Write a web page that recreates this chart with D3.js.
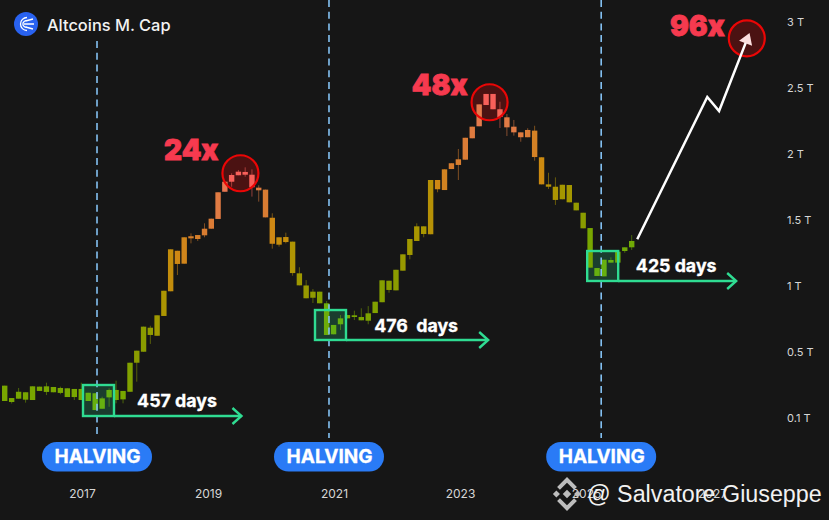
<!DOCTYPE html>
<html>
<head>
<meta charset="utf-8">
<script src="https://cdn.jsdelivr.net/npm/d3@7"></script>
<style>
html, body { margin: 0; padding: 0; background: #161616; }
svg { display: block; }
text { font-family: Inter, "Noto Sans", sans-serif; }
</style>
</head>
<body>
<div id="chart"></div>
<script>
// candle bodies and wicks, in trillions
var bodyTop = [.296,.221,.259,.256,.292,.29,.292,.288,.282,.28,.276,.276,.253,.25,.219,.27,.27,.264,.435,.51,.692,.684,.778,.964,1.278,1.267,1.369,1.377,1.386,1.434,1.51,1.71,1.79,1.841,1.866,1.864,1.843,1.745,1.73,1.517,1.369,1.371,1.336,1.096,1.004,.957,.957,.869,.705,.755,.78,.778,.765,.793,.881,1.043,1.04,1.123,1.24,1.356,1.452,1.452,1.803,1.803,1.884,1.93,1.96,2.123,2.207,2.376,2.455,2.455,2.339,2.278,2.207,2.164,2.182,2.177,1.975,1.77,1.752,1.767,1.765,1.631,1.555,1.439,1.136,1.199,1.197,1.26,1.293,1.341];
var bodyBottom = [.203,.197,.217,.211,.209,.264,.258,.256,.252,.227,.227,.209,.203,.148,.156,.225,.209,.213,.259,.435,.502,.629,.623,.773,.96,1.167,1.169,1.361,1.356,1.384,1.434,1.508,1.714,1.79,1.839,1.843,1.748,1.725,1.52,1.32,1.313,1.333,1.098,1.005,.907,.911,.869,.629,.634,.71,.755,.765,.74,.737,.795,.877,.97,.967,1.116,1.235,1.341,1.394,1.392,1.733,1.727,1.886,1.917,1.957,2.119,2.21,2.371,2.339,2.28,2.202,2.164,2.127,2.127,1.977,1.77,1.752,1.652,1.657,1.634,1.573,1.437,1.139,1.076,1.073,1.177,1.177,1.265,1.293];
var wickHigh = [.296,.221,.282,.256,.292,.29,.314,.288,.29,.28,.276,.314,.253,.25,.229,.28,.326,.264,.435,.51,.692,.699,.778,.964,1.278,1.267,1.369,1.399,1.386,1.475,1.51,1.71,1.79,1.854,1.879,1.899,1.884,1.763,1.73,1.551,1.369,1.404,1.336,1.142,1.045,.977,.957,.886,.705,.78,.78,.813,.831,.848,.881,1.043,1.04,1.123,1.24,1.356,1.475,1.452,1.803,1.803,1.884,1.93,2.038,2.123,2.207,2.376,2.455,2.455,2.396,2.303,2.258,2.164,2.195,2.214,1.975,1.858,1.823,1.767,1.765,1.631,1.555,1.439,1.136,1.199,1.217,1.26,1.293,1.386];
var wickLow = [.203,.188,.217,.193,.209,.264,.239,.256,.244,.227,.209,.209,.203,.148,.156,.168,.189,.189,.259,.32,.502,.561,.623,.773,.96,1.083,1.169,1.323,1.341,1.369,1.434,1.508,1.714,1.752,1.839,1.828,1.677,1.639,1.52,1.283,1.298,1.323,1.078,1.005,.907,.871,.869,.629,.634,.667,.755,.742,.74,.71,.795,.877,.949,.967,1.116,1.202,1.341,1.369,1.392,1.71,1.727,1.886,1.803,1.957,2.119,2.21,2.371,2.339,2.197,2.136,2.139,2.093,2.127,1.949,1.77,1.735,1.614,1.657,1.634,1.573,1.437,1.139,1.076,1.073,1.177,1.177,1.252,1.273];
// colour of each candle, 0 = green, 1 = red
var heat = [.05,.05,.05,.05,.05,.05,.05,.05,.05,.05,.05,.05,0,0,0,0,.05,.05,.1,.15,.15,.18,.25,.32,.45,.52,.55,.62,.62,.65,.68,.74,.82,1,1,1,1,.72,.66,.52,.45,.45,.34,.25,.22,.18,.12,.02,0,0,.05,.05,.05,.07,.1,.12,.14,.16,.22,.26,.3,.3,.38,.52,.58,.64,.64,.68,.72,.78,1,1,.95,.75,.75,.72,.68,.6,.5,.38,.32,.28,.28,.2,.15,.05,0,0,0,.02,.03,.03];

var priceTicks = [0.1, 0.5, 1, 1.5, 2, 2.5, 3];
var yearTicks = [2017, 2019, 2021, 2023, 2025, 2027];

// halvings as candle index, and the boxes around them
var halvingIdx = [13.26, 47.34, 86.6];
var boxTop = [.3, .818, 1.265];
var boxBottom = [.112, .591, 1.038];
var arrowEndIdx = [34.45, 70.3, 106.07];
var dayLabels = ["457 days", "476  days", "425 days"];
var dayLabelIdx = [19.05, 53.85, 91.6];
var dayLabelVal = [.165, .652, 1.103];

// the tops
var peakIdx = [34.3, 70.5, 107.6];
var peakVal = [1.854, 2.392, 2.876];
var peakLabels = ["24x", "48x", "96x"];
var peakLabelVal = [1.955, 2.447, 2.894];

// projected move after the last candle
var projIdx = [91.8, 101.9, 103.6, 108];
var projVal = [1.354, 2.432, 2.326, 2.917];

var width = 829, height = 520;

// the chart's index axis is not quite even, and the price axis has a stretched bottom
var x = d3.scaleLinear().domain([0, 18, 46, 91]).range([4.7, 130, 319.7, 631.7]);
var y = d3.scaleLinear().domain([0.1, 0.5, 3]).range([418, 352, 22]);
var yearX = d3.scaleLinear().domain([2017, 2027]).range([82, 712]);
var color = d3.scaleLinear()
    .domain([0, .05, .15, .3, .5, .65, .8, 1])
    .range(["#66b010", "#78a600", "#8a9c00", "#a89600", "#cc8a10", "#d87c30", "#e67a50", "#f8605a"]);

var svg = d3.select("#chart").append("svg")
    .attr("width", width)
    .attr("height", height);

svg.append("rect").attr("width", width).attr("height", height).attr("fill", "#161616");

// fills go under the candles, outlines on top
var green = "#2fdc92", red = "#ea0606";

svg.selectAll(".box-fill").data(halvingIdx).enter().append("rect")
    .attr("class", "box-fill")
    .attr("x", function (d) { return x(d) - 14; })
    .attr("y", function (d, i) { return y(boxTop[i]); })
    .attr("width", 31)
    .attr("height", function (d, i) { return y(boxBottom[i]) - y(boxTop[i]); })
    .attr("fill", green)
    .attr("fill-opacity", 0.2);

svg.selectAll(".peak-fill").data(peakIdx).enter().append("circle")
    .attr("class", "peak-fill")
    .attr("cx", function (d) { return x(d); })
    .attr("cy", function (d, i) { return y(peakVal[i]); })
    .attr("r", 18)
    .attr("fill", red)
    .attr("fill-opacity", 0.25);

var candles = svg.selectAll(".candle").data(heat).enter().append("g").attr("class", "candle");

candles.append("line")
    .attr("x1", function (d, i) { return x(i); })
    .attr("x2", function (d, i) { return x(i); })
    .attr("y1", function (d, i) { return y(wickHigh[i]); })
    .attr("y2", function (d, i) { return y(wickLow[i]); })
    .attr("stroke", function (d) { return color(d); })
    .attr("stroke-opacity", 0.55)
    .attr("stroke-width", 1);

candles.append("rect")
    .attr("x", function (d, i) { return x(i) - 2.7; })
    .attr("y", function (d, i) { return y(bodyTop[i]); })
    .attr("width", 5.4)
    .attr("height", function (d, i) { return Math.max(1.5, y(bodyBottom[i]) - y(bodyTop[i])); })
    .attr("fill", function (d) { return color(d); });

// halving lines, the first one stops under the title
svg.selectAll(".halving-line").data(halvingIdx).enter().append("line")
    .attr("class", "halving-line")
    .attr("x1", function (d) { return x(d); })
    .attr("x2", function (d) { return x(d); })
    .attr("y1", function (d, i) { return i == 0 ? 41 : 0; })
    .attr("y2", 438)
    .attr("stroke", "#84c1f2")
    .attr("stroke-width", 1.6)
    .attr("stroke-dasharray", "7,4.7");

svg.selectAll(".box-line").data(halvingIdx).enter().append("rect")
    .attr("class", "box-line")
    .attr("x", function (d) { return x(d) - 14; })
    .attr("y", function (d, i) { return y(boxTop[i]); })
    .attr("width", 31)
    .attr("height", function (d, i) { return y(boxBottom[i]) - y(boxTop[i]); })
    .attr("fill", "none")
    .attr("stroke", green)
    .attr("stroke-width", 2.4);

// length arrows running out from the box bottoms
var dayArrows = svg.selectAll(".day-arrow").data(halvingIdx).enter().append("g").attr("class", "day-arrow");

dayArrows.append("line")
    .attr("x1", function (d) { return x(d) + 17; })
    .attr("x2", function (d, i) { return x(arrowEndIdx[i]) ; })
    .attr("y1", function (d, i) { return y(boxBottom[i]); })
    .attr("y2", function (d, i) { return y(boxBottom[i]); })
    .attr("stroke", green)
    .attr("stroke-width", 2.4);

dayArrows.append("path")
    .attr("d", function (d, i) {
        var ex = x(arrowEndIdx[i]), ey = y(boxBottom[i]);
        return "M" + (ex - 9) + "," + (ey - 8) + "L" + ex + "," + ey + "L" + (ex - 9) + "," + (ey + 8);
    })
    .attr("fill", "none")
    .attr("stroke", green)
    .attr("stroke-width", 2.4);

svg.selectAll(".day-label").data(dayLabels).enter().append("text")
    .attr("class", "day-label")
    .attr("x", function (d, i) { return x(dayLabelIdx[i]); })
    .attr("y", function (d, i) { return y(dayLabelVal[i]); })
    .attr("fill", "#fff")
    .attr("stroke", "#fff")
    .attr("stroke-width", 0.3)
    .attr("font-size", 17.8)
    .attr("font-weight", 700)
    .attr("xml:space", "preserve")
    .style("white-space", "pre")
    .text(function (d) { return d; });

// top circles
svg.selectAll(".peak-line").data(peakIdx).enter().append("circle")
    .attr("class", "peak-line")
    .attr("cx", function (d) { return x(d); })
    .attr("cy", function (d, i) { return y(peakVal[i]); })
    .attr("r", 18)
    .attr("fill", "none")
    .attr("stroke", red)
    .attr("stroke-width", 2.2);

svg.selectAll(".peak-label").data(peakLabels).enter().append("text")
    .attr("class", "peak-label")
    .attr("x", function (d, i) { return x(peakIdx[i]) - 22; })
    .attr("y", function (d, i) { return y(peakLabelVal[i]); })
    .attr("text-anchor", "end")
    .attr("fill", "#f63a4f")
    .attr("stroke", "#f63a4f")
    .attr("stroke-width", 0.8)
    .attr("font-size", 28)
    .attr("font-weight", 900)
    .text(function (d) { return d; });

// projection arrow
var n = projIdx.length - 1,
    tipX = x(projIdx[n]), tipY = y(projVal[n]),
    prevX = x(projIdx[n - 1]), prevY = y(projVal[n - 1]),
    len = Math.sqrt((tipX - prevX) * (tipX - prevX) + (tipY - prevY) * (tipY - prevY)),
    ux = (tipX - prevX) / len, uy = (tipY - prevY) / len;

svg.append("path")
    .attr("d", d3.line()
        .x(function (d, i) { return i == n ? tipX - ux * 8 : x(d); })
        .y(function (d, i) { return i == n ? tipY - uy * 8 : y(projVal[i]); })(projIdx))
    .attr("fill", "none")
    .attr("stroke", "#fff")
    .attr("stroke-width", 2.5);

svg.append("polygon")
    .attr("points", [
        [tipX, tipY],
        [tipX - ux * 11 - uy * 7, tipY - uy * 11 + ux * 7],
        [tipX - ux * 11 + uy * 7, tipY - uy * 11 - ux * 7]
    ].join(" "))
    .attr("fill", "#fbdede");

// halving pills
var pills = svg.selectAll(".pill").data(halvingIdx).enter().append("g")
    .attr("class", "pill")
    .attr("transform", function (d) { return "translate(" + x(d) + ",0)"; });

pills.append("rect")
    .attr("x", -55)
    .attr("y", 442)
    .attr("width", 110)
    .attr("height", 29.5)
    .attr("rx", 14.7)
    .attr("fill", "#2a7bf6");

pills.append("text")
    .attr("x", 0.5)
    .attr("y", 463)
    .attr("text-anchor", "middle")
    .attr("fill", "#fff")
    .attr("stroke", "#fff")
    .attr("stroke-width", 0.3)
    .attr("font-size", 19)
    .attr("font-weight", 700)
    .text("HALVING");

// axes
var yAxis = svg.append("g")
    .attr("transform", "translate(787,0)")
    .call(d3.axisRight(y).tickValues(priceTicks).tickSize(0).tickPadding(0)
        .tickFormat(function (d) { return d + " T"; }));
yAxis.select(".domain").remove();
yAxis.selectAll("text").attr("fill", "#d6d6d6").style("font-size", "11px").style("font-family", "Inter, sans-serif");

var xAxis = svg.append("g")
    .attr("transform", "translate(0,489)")
    .call(d3.axisBottom(yearX).tickValues(yearTicks).tickSize(0).tickPadding(0).tickFormat(d3.format("d")));
xAxis.select(".domain").remove();
xAxis.selectAll("text").attr("fill", "#d6d6d6").style("font-size", "12px").style("font-family", "Inter, sans-serif");

// title and logo
var logo = svg.append("g").attr("transform", "translate(26,24)");
logo.append("circle").attr("r", 12).attr("fill", "#2962f0");
logo.append("path")
    .attr("d", "M1,-6.5A6.5,6.5 0 1 0 1,6.5M1,-3.2A3.3,3.3 0 1 0 1,3.2M-2,0L8,0M-.5,-3L7,-5M-.5,3L7,5")
    .attr("fill", "none")
    .attr("stroke", "#fff")
    .attr("stroke-width", 1.3);

svg.append("text")
    .attr("x", 47)
    .attr("y", 31)
    .attr("fill", "#f2f2f2")
    .attr("font-size", 16.4)
    .attr("font-weight", 500)
    .text("Altcoins M. Cap");

// watermark
var mark = svg.append("g").attr("transform", "translate(567,494) rotate(45)").attr("fill", "#bdbdbd");
mark.append("rect").attr("x", -3).attr("y", -3).attr("width", 6).attr("height", 6);
mark.append("path").attr("d", "M-12,-12H2V-8H-8V2H-12Z");
mark.append("path").attr("d", "M12,12H-2V8H8V-2H12Z");
mark.append("rect").attr("x", 5).attr("y", -10).attr("width", 5).attr("height", 5);
mark.append("rect").attr("x", -10).attr("y", 5).attr("width", 5).attr("height", 5);

svg.append("text")
    .attr("x", 587)
    .attr("y", 502)
    .attr("fill", "#f2f2f2")
    .attr("font-size", 23.3)
    .style("font-family", "'Liberation Sans', Arial, sans-serif")
    .text("@ Salvatore Giuseppe");
</script>
</body>
</html>
